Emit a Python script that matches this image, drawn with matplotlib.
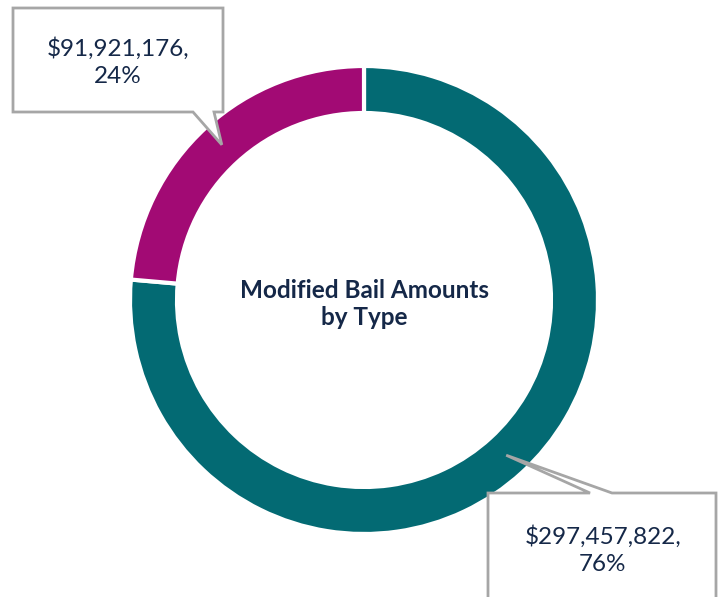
import numpy as np
import matplotlib.pyplot as plt
from matplotlib.patches import Polygon

# data
categories = ['Type A', 'Type B']
amounts = [297457822, 91921176]
colors = ['#036a73', '#a20a74']
title = 'Modified Bail Amounts\nby Type'

W, H = 722, 597
fig = plt.figure(figsize=(W / 100, H / 100), dpi=100)
ax = fig.add_axes([0, 0, 1, 1])

plt.rcParams['font.family'] = ['Lato', 'DejaVu Sans']
text_col = '#152848'
box_col = '#a6a6a6'

cx, cy = 364, H - 300
r_out, ring = 234, 47

wedges, _ = ax.pie(
    amounts,
    colors=colors,
    startangle=90,
    counterclock=False,
    radius=r_out,
    center=(cx, cy),
    wedgeprops=dict(width=ring, edgecolor='white', linewidth=3),
    frame=True,
)
ax.set_xlim(0, W)
ax.set_ylim(0, H)
ax.set_aspect('equal')
ax.axis('off')

ax.text(cx, H - 304, title, ha='center', va='center', fontsize=17.5,
        fontweight='bold', color=text_col, linespacing=1.22)

total = sum(amounts)


def callout(wedge, box, base, text, text_xy):
    # box: (x0, y0, x1, y1) in pixels (y down); base: x-range of pointer
    th = np.deg2rad((wedge.theta1 + wedge.theta2) / 2)
    rm = r_out - ring / 2
    tip = (cx + rm * np.cos(th), cy + rm * np.sin(th))
    x0, y0, x1, y1 = box
    y0, y1 = H - y0, H - y1
    if tip[1] < y1:
        # pointer on the bottom edge
        pts = [(x0, y0), (x1, y0), (x1, y1), (base[1], y1), tip,
               (base[0], y1), (x0, y1)]
    else:
        # pointer on the top edge
        pts = [(x0, y0), (base[0], y0), tip, (base[1], y0), (x1, y0),
               (x1, y1), (x0, y1)]
    ax.add_patch(Polygon(pts, closed=True, facecolor='white',
                         edgecolor=box_col, linewidth=2, zorder=5))
    ax.text(text_xy[0], H - text_xy[1], text, ha='center', va='center',
            fontsize=17.5, color=text_col, linespacing=1.32, zorder=6)


for w, amt in zip(wedges, amounts):
    lab = f'${amt:,},\n{amt / total:.0%}'
    if amt == amounts[0]:
        callout(w, (488, 493, 716, 620), (590, 612), lab, (603, 550))
    else:
        callout(w, (13, 8, 223, 112), (193, 214), lab, (118, 62))

fig.savefig('out.png', dpi=100)
